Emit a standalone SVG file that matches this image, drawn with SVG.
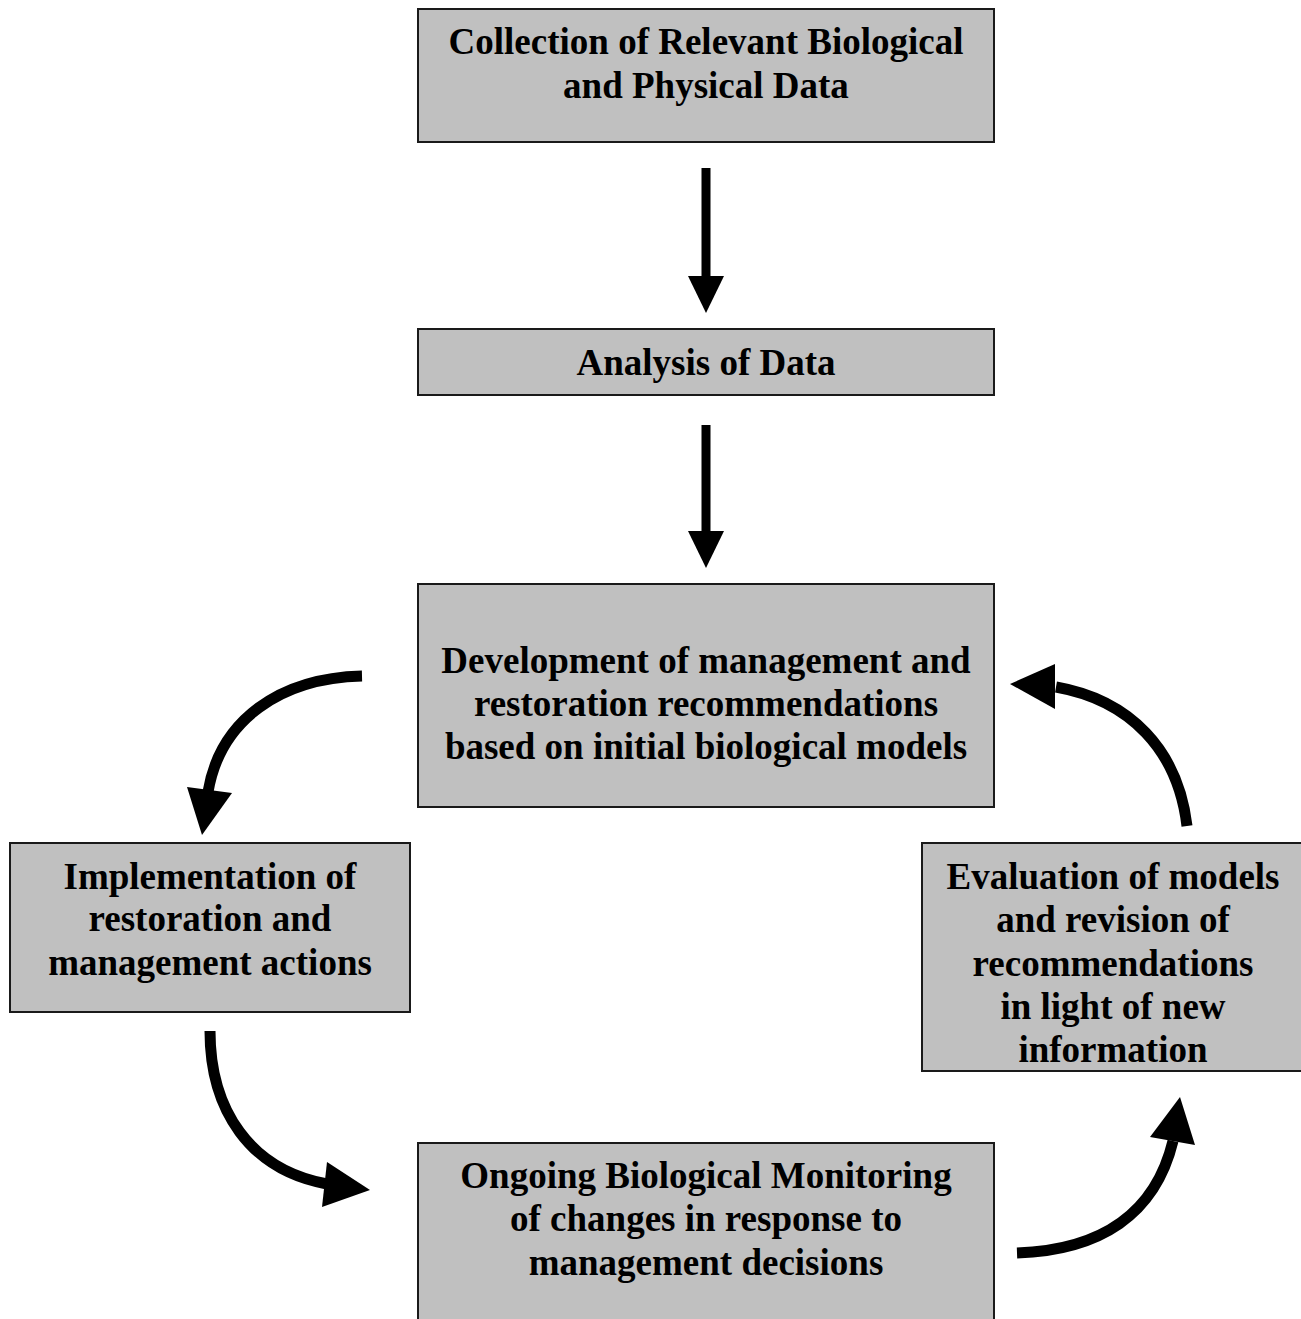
<svg xmlns="http://www.w3.org/2000/svg" width="1301" height="1319" viewBox="0 0 1301 1319">
<style>
.box{fill:#c0c0c0;stroke:#1a1a1a;stroke-width:2}
.t{font-family:"Liberation Serif","Times New Roman",serif;font-weight:bold;font-size:37px;fill:#000;text-anchor:middle}
.shaft{fill:none;stroke:#000;stroke-width:9}
.curve{fill:none;stroke:#000;stroke-width:11}
.head{fill:#000}
</style>
<rect width="1301" height="1319" fill="#fff"/>
<g id="connectors">
<line class="shaft" x1="706" y1="168" x2="706" y2="278"/>
<polygon class="head" points="688,276 724,276 706,313"/>
<line class="shaft" x1="706" y1="425" x2="706" y2="533"/>
<polygon class="head" points="688,531 724,531 706,568"/>
<path class="curve" d="M362,676 C280,678 220,720 208,792"/>
<polygon class="head" points="187,787 232,793 202,835"/>
<path class="curve" d="M210,1031 C210,1110 250,1170 327,1184"/>
<polygon class="head" points="327,1162 322,1207 370,1190"/>
<path class="curve" d="M1187,826 C1178,750 1130,700 1056,687"/>
<polygon class="head" points="1055,664 1055,709 1010,684"/>
<path class="curve" d="M1017,1253 C1100,1250 1155,1215 1173,1141"/>
<polygon class="head" points="1150,1137 1195,1145 1180,1097"/>
</g>
<g id="n1">
<rect class="box" x="418" y="9" width="576" height="133"/>
<text class="t" x="706" y="54">Collection of Relevant Biological</text>
<text class="t" x="706" y="98">and Physical Data</text>
</g>
<g id="n2">
<rect class="box" x="418" y="329" width="576" height="66"/>
<text class="t" x="706" y="375">Analysis of Data</text>
</g>
<g id="n3">
<rect class="box" x="418" y="584" width="576" height="223"/>
<text class="t" x="706" y="673">Development of management and</text>
<text class="t" x="706" y="716">restoration recommendations</text>
<text class="t" x="706" y="759">based on initial biological models</text>
</g>
<g id="n4">
<rect class="box" x="10" y="843" width="400" height="169"/>
<text class="t" x="210" y="889">Implementation of</text>
<text class="t" x="210" y="931">restoration and</text>
<text class="t" x="210" y="975">management actions</text>
</g>
<g id="n5">
<rect class="box" x="922" y="843" width="381" height="228"/>
<text class="t" x="1113" y="889">Evaluation of models</text>
<text class="t" x="1113" y="932">and revision of</text>
<text class="t" x="1113" y="976">recommendations</text>
<text class="t" x="1113" y="1019">in light of new</text>
<text class="t" x="1113" y="1062">information</text>
</g>
<g id="n6">
<rect class="box" x="418" y="1143" width="576" height="180"/>
<text class="t" x="706" y="1188">Ongoing Biological Monitoring</text>
<text class="t" x="706" y="1231">of changes in response to</text>
<text class="t" x="706" y="1275">management decisions</text>
</g>
</svg>
